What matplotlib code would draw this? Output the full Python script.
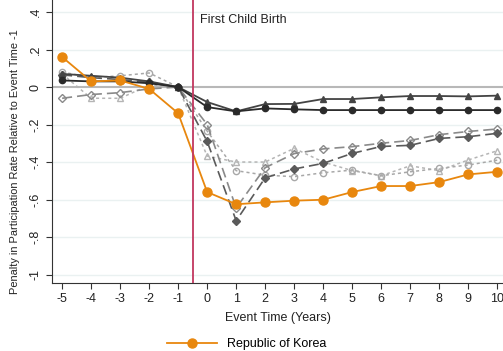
import matplotlib
matplotlib.use("Agg")
import matplotlib.pyplot as plt
from matplotlib.lines import Line2D

plt.rcParams['font.family'] = ['Liberation Sans', 'DejaVu Sans']

event_time = [-5, -4, -3, -2, -1, 0, 1, 2, 3, 4, 5, 6, 7, 8, 9, 10]
y_ticks = [0.4, 0.2, 0, -0.2, -0.4, -0.6, -0.8, -1]
y_tick_labels = ['.4', '.2', '0', '-.2', '-.4', '-.6', '-.8', '-1']

korea = [0.16, 0.03, 0.035, -0.01, -0.14, -0.56, -0.625, -0.615, -0.606, -0.601,
         -0.56, -0.528, -0.528, -0.507, -0.466, -0.452]
dark_circle = [0.035, 0.03, 0.03, 0.02, 0.0, -0.107, -0.13, -0.114, -0.119, -0.123,
               -0.123, -0.123, -0.123, -0.123, -0.123, -0.123]
dark_triangle = [0.07, 0.06, 0.05, 0.03, 0.0, -0.08, -0.13, -0.091, -0.09, -0.064,
                 -0.064, -0.055, -0.048, -0.048, -0.05, -0.046]
dark_diamond = [0.065, 0.05, 0.04, 0.025, 0.0, -0.29, -0.713, -0.484, -0.437, -0.407,
                -0.354, -0.317, -0.311, -0.274, -0.265, -0.247]
hollow_diamond = [-0.06, -0.04, -0.03, -0.01, 0.0, -0.2, -0.645, -0.43, -0.355, -0.33,
                  -0.318, -0.3, -0.285, -0.254, -0.237, -0.224]
light_circle = [0.08, 0.05, 0.06, 0.075, 0.0, -0.235, -0.446, -0.47, -0.478, -0.457,
                -0.443, -0.473, -0.452, -0.434, -0.416, -0.39]
light_triangle = [0.07, -0.06, -0.06, 0.01, 0.0, -0.368, -0.4, -0.4, -0.327, -0.4,
                  -0.446, -0.473, -0.42, -0.446, -0.389, -0.34]

fig = plt.figure(figsize=(5.03, 3.51), dpi=100)
ax = fig.add_axes([52 / 503, 1 - 283 / 351, 1 - 52 / 503, 283 / 351])

for t in y_ticks:
    if t != 0:
        ax.axhline(t, color='#eaf1f1', lw=1, zorder=0)
ax.axhline(0, color='#b8b8b8', lw=1.5, zorder=1)

# comparison countries (grey)
ax.plot(event_time, light_triangle, color='#b5b5b5', ls=(0, (2, 2)), lw=1.1,
        marker='^', ms=5, mfc='none', mec='#b5b5b5', zorder=2)
ax.plot(event_time, light_circle, color='#a8a8a8', ls=(0, (2, 2)), lw=1.1,
        marker='o', ms=4.5, mfc='none', mec='#a8a8a8', zorder=2)
ax.plot(event_time, hollow_diamond, color='#8a8a8a', ls=(0, (6, 3)), lw=1.2,
        marker='D', ms=4, mfc='none', mec='#8a8a8a', zorder=3)
ax.plot(event_time, dark_diamond, color='#5a5a5a', ls=(0, (6, 3)), lw=1.2,
        marker='D', ms=4, zorder=3)
ax.plot(event_time, dark_triangle, color='#444444', ls='-', lw=1.3,
        marker='^', ms=5, zorder=4)
ax.plot(event_time, dark_circle, color='#2a2a2a', ls='-', lw=1.3,
        marker='o', ms=4.5, zorder=4)

# Korea on top
ax.plot(event_time, korea, color='#e8870e', lw=1.3, marker='o', ms=6.5, zorder=5)

ax.axvline(-0.5, color='#c2375f', lw=1.3, zorder=6)
ax.text(-0.25, 0.355, 'First Child Birth', fontsize=9, color='#222222', va='center')

ax.set_xlim(-5.35, 10.2)
ax.set_ylim(-1.045, 0.464)
ax.set_xticks(event_time)
ax.set_xticklabels([str(v) for v in event_time], fontsize=9)
ax.set_yticks(y_ticks)
ax.set_yticklabels(y_tick_labels, fontsize=9, rotation=90, va='center')
ax.tick_params(axis='both', length=4, color='#333333', labelcolor='#222222')
for side in ['top', 'right']:
    ax.spines[side].set_visible(False)
for side in ['left', 'bottom']:
    ax.spines[side].set_color('#333333')

ax.set_xlabel('Event Time (Years)', fontsize=9, color='#222222', labelpad=5)
ax.set_ylabel('Penalty in Participation Rate Relative to Event Time -1', fontsize=7.9,
              color='#222222')
ax.yaxis.set_label_coords(-0.072, 0.43)

handle = Line2D([], [], color='#e8870e', lw=1.3, marker='o', ms=6.5)
fig.legend([handle], ['Republic of Korea'], loc='center', bbox_to_anchor=(0.49, 0.02),
           frameon=False, fontsize=9, handlelength=4)

fig.savefig('out.png', dpi=100)
